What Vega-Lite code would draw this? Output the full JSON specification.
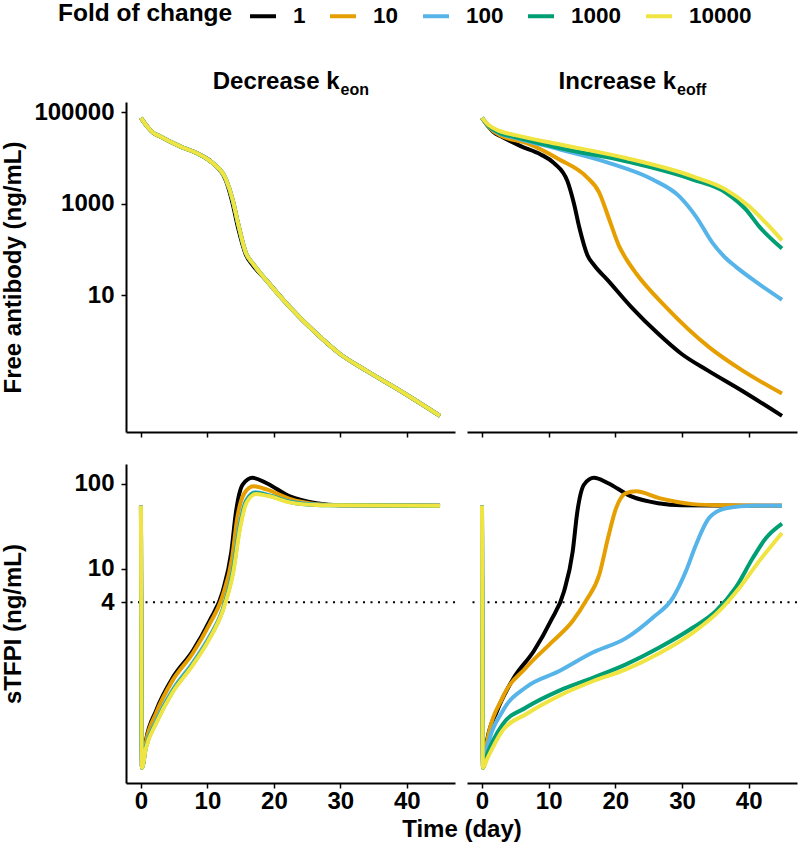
{
"$schema":"https://vega.github.io/schema/vega-lite/v6.json",
"padding":{"left":1,"right":3,"top":1,"bottom":2},
"background":"white",
"datasets":{"d":[
{"p":"kon","m":"ab","f":"1","t":0,"v":75900},{"p":"kon","m":"ab","f":"1","t":1,"v":47900},{"p":"kon","m":"ab","f":"1","t":1.8,"v":36300},{"p":"kon","m":"ab","f":"1","t":2.76,"v":30200},{"p":"kon","m":"ab","f":"1","t":5.8,"v":18200},{"p":"kon","m":"ab","f":"1","t":8.8,"v":12000},{"p":"kon","m":"ab","f":"1","t":10.8,"v":7760},{"p":"kon","m":"ab","f":"1","t":12.8,"v":3160},{"p":"kon","m":"ab","f":"1","t":13.8,"v":1000},{"p":"kon","m":"ab","f":"1","t":14.6,"v":302},{"p":"kon","m":"ab","f":"1","t":15.8,"v":75.9},{"p":"kon","m":"ab","f":"1","t":16.8,"v":45.7},{"p":"kon","m":"ab","f":"1","t":18.85,"v":21.4},{"p":"kon","m":"ab","f":"1","t":22.4,"v":5.5},{"p":"kon","m":"ab","f":"1","t":26.4,"v":1.45},{"p":"kon","m":"ab","f":"1","t":29.9,"v":0.525},{"p":"kon","m":"ab","f":"1","t":33.9,"v":0.224},{"p":"kon","m":"ab","f":"1","t":39,"v":0.0813},{"p":"kon","m":"ab","f":"1","t":45,"v":0.0229},
{"p":"kon","m":"ab","f":"10","t":0,"v":75900},{"p":"kon","m":"ab","f":"10","t":1,"v":47900},{"p":"kon","m":"ab","f":"10","t":1.8,"v":36300},{"p":"kon","m":"ab","f":"10","t":2.76,"v":30200},{"p":"kon","m":"ab","f":"10","t":5.8,"v":18200},{"p":"kon","m":"ab","f":"10","t":8.8,"v":12000},{"p":"kon","m":"ab","f":"10","t":10.8,"v":7760},{"p":"kon","m":"ab","f":"10","t":12.8,"v":3390},{"p":"kon","m":"ab","f":"10","t":13.8,"v":1230},{"p":"kon","m":"ab","f":"10","t":14.6,"v":380},{"p":"kon","m":"ab","f":"10","t":15.8,"v":83.2},{"p":"kon","m":"ab","f":"10","t":16.8,"v":50.1},{"p":"kon","m":"ab","f":"10","t":18.85,"v":21.4},{"p":"kon","m":"ab","f":"10","t":22.4,"v":5.5},{"p":"kon","m":"ab","f":"10","t":26.4,"v":1.45},{"p":"kon","m":"ab","f":"10","t":29.9,"v":0.525},{"p":"kon","m":"ab","f":"10","t":33.9,"v":0.224},{"p":"kon","m":"ab","f":"10","t":39,"v":0.0813},{"p":"kon","m":"ab","f":"10","t":45,"v":0.0229},
{"p":"kon","m":"ab","f":"100","t":0,"v":75900},{"p":"kon","m":"ab","f":"100","t":1,"v":47900},{"p":"kon","m":"ab","f":"100","t":1.8,"v":36300},{"p":"kon","m":"ab","f":"100","t":2.76,"v":30200},{"p":"kon","m":"ab","f":"100","t":5.8,"v":18200},{"p":"kon","m":"ab","f":"100","t":8.8,"v":12000},{"p":"kon","m":"ab","f":"100","t":10.8,"v":7760},{"p":"kon","m":"ab","f":"100","t":12.8,"v":3390},{"p":"kon","m":"ab","f":"100","t":13.8,"v":1230},{"p":"kon","m":"ab","f":"100","t":14.6,"v":380},{"p":"kon","m":"ab","f":"100","t":15.8,"v":83.2},{"p":"kon","m":"ab","f":"100","t":16.8,"v":50.1},{"p":"kon","m":"ab","f":"100","t":18.85,"v":21.4},{"p":"kon","m":"ab","f":"100","t":22.4,"v":5.5},{"p":"kon","m":"ab","f":"100","t":26.4,"v":1.45},{"p":"kon","m":"ab","f":"100","t":29.9,"v":0.525},{"p":"kon","m":"ab","f":"100","t":33.9,"v":0.224},{"p":"kon","m":"ab","f":"100","t":39,"v":0.0813},{"p":"kon","m":"ab","f":"100","t":45,"v":0.0229},
{"p":"kon","m":"ab","f":"1000","t":0,"v":75900},{"p":"kon","m":"ab","f":"1000","t":1,"v":47900},{"p":"kon","m":"ab","f":"1000","t":1.8,"v":36300},{"p":"kon","m":"ab","f":"1000","t":2.76,"v":30200},{"p":"kon","m":"ab","f":"1000","t":5.8,"v":18200},{"p":"kon","m":"ab","f":"1000","t":8.8,"v":12000},{"p":"kon","m":"ab","f":"1000","t":10.8,"v":7760},{"p":"kon","m":"ab","f":"1000","t":12.8,"v":3390},{"p":"kon","m":"ab","f":"1000","t":13.8,"v":1230},{"p":"kon","m":"ab","f":"1000","t":14.6,"v":380},{"p":"kon","m":"ab","f":"1000","t":15.8,"v":83.2},{"p":"kon","m":"ab","f":"1000","t":16.8,"v":50.1},{"p":"kon","m":"ab","f":"1000","t":18.85,"v":21.4},{"p":"kon","m":"ab","f":"1000","t":22.4,"v":5.5},{"p":"kon","m":"ab","f":"1000","t":26.4,"v":1.45},{"p":"kon","m":"ab","f":"1000","t":29.9,"v":0.525},{"p":"kon","m":"ab","f":"1000","t":33.9,"v":0.224},{"p":"kon","m":"ab","f":"1000","t":39,"v":0.0813},{"p":"kon","m":"ab","f":"1000","t":45,"v":0.0229},
{"p":"kon","m":"ab","f":"10000","t":0,"v":75900},{"p":"kon","m":"ab","f":"10000","t":1,"v":47900},{"p":"kon","m":"ab","f":"10000","t":1.8,"v":36300},{"p":"kon","m":"ab","f":"10000","t":2.76,"v":30200},{"p":"kon","m":"ab","f":"10000","t":5.8,"v":18200},{"p":"kon","m":"ab","f":"10000","t":8.8,"v":12000},{"p":"kon","m":"ab","f":"10000","t":10.8,"v":7760},{"p":"kon","m":"ab","f":"10000","t":12.8,"v":3390},{"p":"kon","m":"ab","f":"10000","t":13.8,"v":1230},{"p":"kon","m":"ab","f":"10000","t":14.6,"v":380},{"p":"kon","m":"ab","f":"10000","t":15.8,"v":83.2},{"p":"kon","m":"ab","f":"10000","t":16.8,"v":50.1},{"p":"kon","m":"ab","f":"10000","t":18.85,"v":21.4},{"p":"kon","m":"ab","f":"10000","t":22.4,"v":5.5},{"p":"kon","m":"ab","f":"10000","t":26.4,"v":1.45},{"p":"kon","m":"ab","f":"10000","t":29.9,"v":0.525},{"p":"kon","m":"ab","f":"10000","t":33.9,"v":0.224},{"p":"kon","m":"ab","f":"10000","t":39,"v":0.0813},{"p":"kon","m":"ab","f":"10000","t":45,"v":0.0229},
{"p":"koff","m":"ab","f":"1","t":0,"v":75900},{"p":"koff","m":"ab","f":"1","t":1,"v":47900},{"p":"koff","m":"ab","f":"1","t":1.8,"v":36300},{"p":"koff","m":"ab","f":"1","t":2.76,"v":30200},{"p":"koff","m":"ab","f":"1","t":5.8,"v":18200},{"p":"koff","m":"ab","f":"1","t":8.8,"v":12000},{"p":"koff","m":"ab","f":"1","t":10.8,"v":7760},{"p":"koff","m":"ab","f":"1","t":12.8,"v":3160},{"p":"koff","m":"ab","f":"1","t":13.8,"v":1000},{"p":"koff","m":"ab","f":"1","t":14.6,"v":302},{"p":"koff","m":"ab","f":"1","t":15.8,"v":75.9},{"p":"koff","m":"ab","f":"1","t":16.8,"v":45.7},{"p":"koff","m":"ab","f":"1","t":18.85,"v":21.4},{"p":"koff","m":"ab","f":"1","t":22.4,"v":5.5},{"p":"koff","m":"ab","f":"1","t":26.4,"v":1.45},{"p":"koff","m":"ab","f":"1","t":29.9,"v":0.525},{"p":"koff","m":"ab","f":"1","t":33.9,"v":0.224},{"p":"koff","m":"ab","f":"1","t":39,"v":0.0813},{"p":"koff","m":"ab","f":"1","t":45,"v":0.0229},
{"p":"koff","m":"ab","f":"10","t":0,"v":75900},{"p":"koff","m":"ab","f":"10","t":1,"v":47900},{"p":"koff","m":"ab","f":"10","t":2.76,"v":30900},{"p":"koff","m":"ab","f":"10","t":6.6,"v":21400},{"p":"koff","m":"ab","f":"10","t":11.6,"v":9330},{"p":"koff","m":"ab","f":"10","t":15.6,"v":3980},{"p":"koff","m":"ab","f":"10","t":17.6,"v":1740},{"p":"koff","m":"ab","f":"10","t":19.1,"v":447},{"p":"koff","m":"ab","f":"10","t":20.6,"v":115},{"p":"koff","m":"ab","f":"10","t":21.6,"v":63.1},{"p":"koff","m":"ab","f":"10","t":23.1,"v":30.2},{"p":"koff","m":"ab","f":"10","t":27.6,"v":5.5},{"p":"koff","m":"ab","f":"10","t":34.1,"v":0.724},{"p":"koff","m":"ab","f":"10","t":39.1,"v":0.224},{"p":"koff","m":"ab","f":"10","t":45,"v":0.0708},
{"p":"koff","m":"ab","f":"100","t":0,"v":75900},{"p":"koff","m":"ab","f":"100","t":1,"v":50100},{"p":"koff","m":"ab","f":"100","t":2.5,"v":35500},{"p":"koff","m":"ab","f":"100","t":5,"v":27500},{"p":"koff","m":"ab","f":"100","t":11.6,"v":15500},{"p":"koff","m":"ab","f":"100","t":19.1,"v":7760},{"p":"koff","m":"ab","f":"100","t":25.6,"v":3390},{"p":"koff","m":"ab","f":"100","t":29.6,"v":1450},{"p":"koff","m":"ab","f":"100","t":32.1,"v":525},{"p":"koff","m":"ab","f":"100","t":34.6,"v":138},{"p":"koff","m":"ab","f":"100","t":36.5,"v":66.1},{"p":"koff","m":"ab","f":"100","t":38.1,"v":41.7},{"p":"koff","m":"ab","f":"100","t":41,"v":20},{"p":"koff","m":"ab","f":"100","t":45,"v":7.94},
{"p":"koff","m":"ab","f":"1000","t":0,"v":75900},{"p":"koff","m":"ab","f":"1000","t":1,"v":50100},{"p":"koff","m":"ab","f":"1000","t":2.5,"v":36300},{"p":"koff","m":"ab","f":"1000","t":5,"v":28800},{"p":"koff","m":"ab","f":"1000","t":11.6,"v":16600},{"p":"koff","m":"ab","f":"1000","t":21.6,"v":8510},{"p":"koff","m":"ab","f":"1000","t":31.6,"v":3390},{"p":"koff","m":"ab","f":"1000","t":36.6,"v":1740},{"p":"koff","m":"ab","f":"1000","t":39.6,"v":741},{"p":"koff","m":"ab","f":"1000","t":41.6,"v":316},{"p":"koff","m":"ab","f":"1000","t":45,"v":105},
{"p":"koff","m":"ab","f":"10000","t":0,"v":75900},{"p":"koff","m":"ab","f":"10000","t":1,"v":52500},{"p":"koff","m":"ab","f":"10000","t":2.5,"v":39800},{"p":"koff","m":"ab","f":"10000","t":5,"v":31600},{"p":"koff","m":"ab","f":"10000","t":11.6,"v":19950},{"p":"koff","m":"ab","f":"10000","t":21.6,"v":10000},{"p":"koff","m":"ab","f":"10000","t":31.6,"v":3980},{"p":"koff","m":"ab","f":"10000","t":36.6,"v":2040},{"p":"koff","m":"ab","f":"10000","t":40.1,"v":871},{"p":"koff","m":"ab","f":"10000","t":42.6,"v":380},{"p":"koff","m":"ab","f":"10000","t":45,"v":158},
{"p":"kon","m":"tf","f":"1","t":0,"v":55},{"p":"kon","m":"tf","f":"1","t":0.15,"v":0.0447},{"p":"kon","m":"tf","f":"1","t":0.75,"v":0.0933},{"p":"kon","m":"tf","f":"1","t":2.26,"v":0.209},{"p":"kon","m":"tf","f":"1","t":4.77,"v":0.513},{"p":"kon","m":"tf","f":"1","t":7.8,"v":1.07},{"p":"kon","m":"tf","f":"1","t":10.3,"v":2.4},{"p":"kon","m":"tf","f":"1","t":12.3,"v":5.37},{"p":"kon","m":"tf","f":"1","t":13.6,"v":15.8},{"p":"kon","m":"tf","f":"1","t":14.3,"v":46.8},{"p":"kon","m":"tf","f":"1","t":15.3,"v":97.7},{"p":"kon","m":"tf","f":"1","t":16.8,"v":117.5},{"p":"kon","m":"tf","f":"1","t":18.85,"v":102},{"p":"kon","m":"tf","f":"1","t":22.4,"v":70.8},{"p":"kon","m":"tf","f":"1","t":26.4,"v":58.9},{"p":"kon","m":"tf","f":"1","t":29.9,"v":55.6},{"p":"kon","m":"tf","f":"1","t":45,"v":55},
{"p":"kon","m":"tf","f":"10","t":0,"v":55},{"p":"kon","m":"tf","f":"10","t":0.15,"v":0.0447},{"p":"kon","m":"tf","f":"10","t":0.75,"v":0.0891},{"p":"kon","m":"tf","f":"10","t":2.26,"v":0.195},{"p":"kon","m":"tf","f":"10","t":4.77,"v":0.479},{"p":"kon","m":"tf","f":"10","t":7.8,"v":1.0},{"p":"kon","m":"tf","f":"10","t":10.3,"v":2.19},{"p":"kon","m":"tf","f":"10","t":12.3,"v":4.79},{"p":"kon","m":"tf","f":"10","t":13.7,"v":13.2},{"p":"kon","m":"tf","f":"10","t":14.5,"v":39.8},{"p":"kon","m":"tf","f":"10","t":15.5,"v":75.9},{"p":"kon","m":"tf","f":"10","t":16.9,"v":93.3},{"p":"kon","m":"tf","f":"10","t":19,"v":85.1},{"p":"kon","m":"tf","f":"10","t":22.4,"v":66.1},{"p":"kon","m":"tf","f":"10","t":26.4,"v":57.5},{"p":"kon","m":"tf","f":"10","t":30,"v":55.6},{"p":"kon","m":"tf","f":"10","t":45,"v":55},
{"p":"kon","m":"tf","f":"100","t":0,"v":55},{"p":"kon","m":"tf","f":"100","t":0.15,"v":0.0447},{"p":"kon","m":"tf","f":"100","t":0.75,"v":0.0794},{"p":"kon","m":"tf","f":"100","t":2.26,"v":0.158},{"p":"kon","m":"tf","f":"100","t":4.77,"v":0.372},{"p":"kon","m":"tf","f":"100","t":7.8,"v":0.776},{"p":"kon","m":"tf","f":"100","t":10.3,"v":1.58},{"p":"kon","m":"tf","f":"100","t":12.3,"v":3.31},{"p":"kon","m":"tf","f":"100","t":13.8,"v":9.55},{"p":"kon","m":"tf","f":"100","t":14.8,"v":31.6},{"p":"kon","m":"tf","f":"100","t":15.8,"v":63.1},{"p":"kon","m":"tf","f":"100","t":17.2,"v":79.4},{"p":"kon","m":"tf","f":"100","t":19.5,"v":72.4},{"p":"kon","m":"tf","f":"100","t":22.4,"v":61.7},{"p":"kon","m":"tf","f":"100","t":26.4,"v":56.9},{"p":"kon","m":"tf","f":"100","t":30,"v":55.6},{"p":"kon","m":"tf","f":"100","t":45,"v":55},
{"p":"kon","m":"tf","f":"1000","t":0,"v":55},{"p":"kon","m":"tf","f":"1000","t":0.15,"v":0.0447},{"p":"kon","m":"tf","f":"1000","t":0.75,"v":0.0776},{"p":"kon","m":"tf","f":"1000","t":2.26,"v":0.151},{"p":"kon","m":"tf","f":"1000","t":4.77,"v":0.355},{"p":"kon","m":"tf","f":"1000","t":7.8,"v":0.741},{"p":"kon","m":"tf","f":"1000","t":10.3,"v":1.51},{"p":"kon","m":"tf","f":"1000","t":12.3,"v":3.24},{"p":"kon","m":"tf","f":"1000","t":13.85,"v":9.33},{"p":"kon","m":"tf","f":"1000","t":14.85,"v":30.2},{"p":"kon","m":"tf","f":"1000","t":15.85,"v":61.7},{"p":"kon","m":"tf","f":"1000","t":17.25,"v":77.6},{"p":"kon","m":"tf","f":"1000","t":19.5,"v":71.6},{"p":"kon","m":"tf","f":"1000","t":22.4,"v":61.0},{"p":"kon","m":"tf","f":"1000","t":26.4,"v":56.2},{"p":"kon","m":"tf","f":"1000","t":30,"v":55.6},{"p":"kon","m":"tf","f":"1000","t":45,"v":55},
{"p":"kon","m":"tf","f":"10000","t":0,"v":55},{"p":"kon","m":"tf","f":"10000","t":0.15,"v":0.0447},{"p":"kon","m":"tf","f":"10000","t":0.75,"v":0.0759},{"p":"kon","m":"tf","f":"10000","t":2.26,"v":0.148},{"p":"kon","m":"tf","f":"10000","t":4.77,"v":0.347},{"p":"kon","m":"tf","f":"10000","t":7.8,"v":0.724},{"p":"kon","m":"tf","f":"10000","t":10.3,"v":1.48},{"p":"kon","m":"tf","f":"10000","t":12.3,"v":3.16},{"p":"kon","m":"tf","f":"10000","t":13.9,"v":9.12},{"p":"kon","m":"tf","f":"10000","t":14.9,"v":29.5},{"p":"kon","m":"tf","f":"10000","t":15.9,"v":60.3},{"p":"kon","m":"tf","f":"10000","t":17.3,"v":75.9},{"p":"kon","m":"tf","f":"10000","t":19.5,"v":70.8},{"p":"kon","m":"tf","f":"10000","t":22.4,"v":60.3},{"p":"kon","m":"tf","f":"10000","t":26.4,"v":56.2},{"p":"kon","m":"tf","f":"10000","t":30,"v":55.6},{"p":"kon","m":"tf","f":"10000","t":45,"v":55},
{"p":"koff","m":"tf","f":"1","t":0,"v":55},{"p":"koff","m":"tf","f":"1","t":0.15,"v":0.0447},{"p":"koff","m":"tf","f":"1","t":0.75,"v":0.0933},{"p":"koff","m":"tf","f":"1","t":2.26,"v":0.209},{"p":"koff","m":"tf","f":"1","t":4.77,"v":0.513},{"p":"koff","m":"tf","f":"1","t":7.8,"v":1.07},{"p":"koff","m":"tf","f":"1","t":10.3,"v":2.4},{"p":"koff","m":"tf","f":"1","t":12.3,"v":5.37},{"p":"koff","m":"tf","f":"1","t":13.6,"v":15.8},{"p":"koff","m":"tf","f":"1","t":14.3,"v":46.8},{"p":"koff","m":"tf","f":"1","t":15.3,"v":97.7},{"p":"koff","m":"tf","f":"1","t":16.8,"v":117.5},{"p":"koff","m":"tf","f":"1","t":18.85,"v":102},{"p":"koff","m":"tf","f":"1","t":22.4,"v":70.8},{"p":"koff","m":"tf","f":"1","t":26.4,"v":58.9},{"p":"koff","m":"tf","f":"1","t":29.9,"v":55.6},{"p":"koff","m":"tf","f":"1","t":45,"v":55},
{"p":"koff","m":"tf","f":"10","t":0,"v":55},{"p":"koff","m":"tf","f":"10","t":0.15,"v":0.0447},{"p":"koff","m":"tf","f":"10","t":0.75,"v":0.0891},{"p":"koff","m":"tf","f":"10","t":3.1,"v":0.302},{"p":"koff","m":"tf","f":"10","t":6.6,"v":0.676},{"p":"koff","m":"tf","f":"10","t":10.6,"v":1.38},{"p":"koff","m":"tf","f":"10","t":13.6,"v":2.4},{"p":"koff","m":"tf","f":"10","t":15.6,"v":4.17},{"p":"koff","m":"tf","f":"10","t":17.6,"v":8.51},{"p":"koff","m":"tf","f":"10","t":18.9,"v":22.9},{"p":"koff","m":"tf","f":"10","t":20.1,"v":51.3},{"p":"koff","m":"tf","f":"10","t":21.6,"v":77.6},{"p":"koff","m":"tf","f":"10","t":23.1,"v":81.3},{"p":"koff","m":"tf","f":"10","t":26.6,"v":67.6},{"p":"koff","m":"tf","f":"10","t":31.6,"v":57.5},{"p":"koff","m":"tf","f":"10","t":36,"v":55.6},{"p":"koff","m":"tf","f":"10","t":45,"v":55},
{"p":"koff","m":"tf","f":"100","t":0,"v":55},{"p":"koff","m":"tf","f":"100","t":0.15,"v":0.0447},{"p":"koff","m":"tf","f":"100","t":0.75,"v":0.0759},{"p":"koff","m":"tf","f":"100","t":3.1,"v":0.209},{"p":"koff","m":"tf","f":"100","t":6.6,"v":0.398},{"p":"koff","m":"tf","f":"100","t":11.6,"v":0.617},{"p":"koff","m":"tf","f":"100","t":16.6,"v":1.02},{"p":"koff","m":"tf","f":"100","t":21.6,"v":1.51},{"p":"koff","m":"tf","f":"100","t":25.6,"v":2.63},{"p":"koff","m":"tf","f":"100","t":28.6,"v":4.47},{"p":"koff","m":"tf","f":"100","t":30.6,"v":9.33},{"p":"koff","m":"tf","f":"100","t":32.1,"v":19.1},{"p":"koff","m":"tf","f":"100","t":34.1,"v":39.8},{"p":"koff","m":"tf","f":"100","t":36.6,"v":51.3},{"p":"koff","m":"tf","f":"100","t":40.6,"v":55},{"p":"koff","m":"tf","f":"100","t":45,"v":55},
{"p":"koff","m":"tf","f":"1000","t":0,"v":55},{"p":"koff","m":"tf","f":"1000","t":0.15,"v":0.0447},{"p":"koff","m":"tf","f":"1000","t":0.75,"v":0.0631},{"p":"koff","m":"tf","f":"1000","t":3.1,"v":0.145},{"p":"koff","m":"tf","f":"1000","t":6.6,"v":0.229},{"p":"koff","m":"tf","f":"1000","t":11.6,"v":0.363},{"p":"koff","m":"tf","f":"1000","t":16.6,"v":0.513},{"p":"koff","m":"tf","f":"1000","t":21.6,"v":0.741},{"p":"koff","m":"tf","f":"1000","t":26.6,"v":1.17},{"p":"koff","m":"tf","f":"1000","t":31.6,"v":2.0},{"p":"koff","m":"tf","f":"1000","t":35.1,"v":3.16},{"p":"koff","m":"tf","f":"1000","t":38.1,"v":6.03},{"p":"koff","m":"tf","f":"1000","t":40.6,"v":13.2},{"p":"koff","m":"tf","f":"1000","t":42.6,"v":22.9},{"p":"koff","m":"tf","f":"1000","t":45,"v":33.9},
{"p":"koff","m":"tf","f":"10000","t":0,"v":55},{"p":"koff","m":"tf","f":"10000","t":0.15,"v":0.0447},{"p":"koff","m":"tf","f":"10000","t":0.75,"v":0.0562},{"p":"koff","m":"tf","f":"10000","t":3.1,"v":0.123},{"p":"koff","m":"tf","f":"10000","t":6.6,"v":0.191},{"p":"koff","m":"tf","f":"10000","t":11.6,"v":0.316},{"p":"koff","m":"tf","f":"10000","t":16.6,"v":0.468},{"p":"koff","m":"tf","f":"10000","t":21.6,"v":0.646},{"p":"koff","m":"tf","f":"10000","t":26.6,"v":1.0},{"p":"koff","m":"tf","f":"10000","t":31.6,"v":1.74},{"p":"koff","m":"tf","f":"10000","t":35.6,"v":3.16},{"p":"koff","m":"tf","f":"10000","t":38.6,"v":5.89},{"p":"koff","m":"tf","f":"10000","t":41.6,"v":12.3},{"p":"koff","m":"tf","f":"10000","t":45,"v":26.3}
]},
"spacing":26,
"vconcat":[
{"spacing":12,"bounds":"flush","hconcat":[
{"width":329,"height":330,
 "layer":[
  {"data":{"name":"d"},"transform":[{"filter":"datum.p==='kon' && datum.m==='ab'"}],
   "mark":{"type":"line","interpolate":"monotone","strokeWidth":4,"clip":true},
   "encoding":{
    "x":{"field":"t","type":"quantitative","scale":{"domain":[-2.25,47.25],"nice":false,"zero":false},"axis":{"values":[0,10,20,30,40],"labels":false,"title":null}},
    "y":{"field":"v","type":"quantitative","scale":{"type":"log","domain":[0.0102,168000],"nice":false},"axis":{"values":[10,1000,100000],"format":"d","title":"Free antibody (ng/mL)","titleX":-101}},
    "color":{"field":"f","type":"nominal","scale":{"domain":["1","10","100","1000","10000"],"range":["#000000","#E69F00","#56B4E9","#009E73","#F0E442"]},
     "legend":{"orient":"none","legendX":-68,"legendY":-101,"direction":"horizontal","title":"Fold of change","titleOrient":"left","titleFontSize":24.5,"titleFontWeight":"bold","titleColor":"black","titleFont":"Liberation Sans","labelFontSize":22.5,"labelFontWeight":"bold","labelColor":"black","labelFont":"Liberation Sans","symbolType":"stroke","symbolSize":676,"symbolStrokeWidth":4,"labelOffset":15,"columnPadding":16,"titlePadding":15}}
   }},
  {"data":{"values":[{}]},"mark":{"type":"text","text":"Decrease k","align":"right","baseline":"alphabetic","dx":49,"dy":-13,"fontSize":24,"fontWeight":"bold","font":"Liberation Sans","color":"black"},
   "encoding":{"x":{"datum":22.5,"axis":{"values":[0,10,20,30,40],"labels":false,"title":null}},"y":{"datum":168000,"axis":{"values":[10,1000,100000],"format":"d","title":"Free antibody (ng/mL)","titleX":-101}}}},
  {"data":{"values":[{}]},"mark":{"type":"text","text":"eon","align":"left","baseline":"alphabetic","dx":50,"dy":-7,"fontSize":16,"fontWeight":"bold","font":"Liberation Sans","color":"black"},
   "encoding":{"x":{"datum":22.5,"axis":{"values":[0,10,20,30,40],"labels":false,"title":null}},"y":{"datum":168000,"axis":{"values":[10,1000,100000],"format":"d","title":"Free antibody (ng/mL)","titleX":-101}}}}
 ]},
{"width":330,"height":330,
 "layer":[
  {"data":{"name":"d"},"transform":[{"filter":"datum.p==='koff' && datum.m==='ab'"}],
   "mark":{"type":"line","interpolate":"monotone","strokeWidth":4,"clip":true},
   "encoding":{
    "x":{"field":"t","type":"quantitative","scale":{"domain":[-2.25,47.25],"nice":false,"zero":false},"axis":{"values":[0,10,20,30,40],"labels":false,"title":null}},
    "y":{"field":"v","type":"quantitative","scale":{"type":"log","domain":[0.0102,168000],"nice":false},"axis":null},
    "color":{"field":"f","type":"nominal","legend":null}
   }},
  {"data":{"values":[{}]},"mark":{"type":"text","text":"Increase k","align":"right","baseline":"alphabetic","dx":44,"dy":-13,"fontSize":24,"fontWeight":"bold","font":"Liberation Sans","color":"black"},
   "encoding":{"x":{"datum":22.5,"axis":{"values":[0,10,20,30,40],"labels":false,"title":null}},"y":{"datum":168000,"axis":null}}},
  {"data":{"values":[{}]},"mark":{"type":"text","text":"eoff","align":"left","baseline":"alphabetic","dx":45,"dy":-7,"fontSize":16,"fontWeight":"bold","font":"Liberation Sans","color":"black"},
   "encoding":{"x":{"datum":22.5,"axis":{"values":[0,10,20,30,40],"labels":false,"title":null}},"y":{"datum":168000,"axis":null}}}
 ]}
]},
{"spacing":12,"bounds":"flush","hconcat":[
{"width":329,"height":319,
 "layer":[
  {"data":{"values":[{}]},"mark":{"type":"rule","strokeDash":[2,5.5],"strokeWidth":2,"color":"black"},
   "encoding":{"y":{"datum":4,"axis":{"values":[4,10,100],"format":"d","title":"sTFPI (ng/mL)","titleX":-101}}}},
  {"data":{"name":"d"},"transform":[{"filter":"datum.p==='kon' && datum.m==='tf'"}],
   "mark":{"type":"line","interpolate":"monotone","strokeWidth":4,"clip":true},
   "encoding":{
    "x":{"field":"t","type":"quantitative","scale":{"domain":[-2.25,47.25],"nice":false,"zero":false},"axis":{"values":[0,10,20,30,40],"title":"Time (day)","titleX":335.5}},
    "y":{"field":"v","type":"quantitative","scale":{"type":"log","domain":[0.0295,171],"nice":false},"axis":{"values":[4,10,100],"format":"d","title":"sTFPI (ng/mL)","titleX":-101}},
    "color":{"field":"f","type":"nominal","legend":null}
   }}
 ]},
{"width":330,"height":319,
 "layer":[
  {"data":{"values":[{}]},"mark":{"type":"rule","strokeDash":[2,5.5],"strokeWidth":2,"color":"black"},
   "encoding":{"y":{"datum":4,"axis":null}}},
  {"data":{"name":"d"},"transform":[{"filter":"datum.p==='koff' && datum.m==='tf'"}],
   "mark":{"type":"line","interpolate":"monotone","strokeWidth":4,"clip":true},
   "encoding":{
    "x":{"field":"t","type":"quantitative","scale":{"domain":[-2.25,47.25],"nice":false,"zero":false},"axis":{"values":[0,10,20,30,40],"title":null}},
    "y":{"field":"v","type":"quantitative","scale":{"type":"log","domain":[0.0295,171],"nice":false},"axis":null},
    "color":{"field":"f","type":"nominal","legend":null}
   }}
 ]}
]}
],
"config":{
 "font":"Liberation Sans",
 "view":{"stroke":null},
 "axis":{"labelFont":"Liberation Sans","labelFontSize":24,"labelFontWeight":"bold","labelColor":"black","titleFont":"Liberation Sans","titleFontSize":24,"titleFontWeight":"bold","titleColor":"black","domainColor":"black","domainWidth":2,"tickColor":"black","tickWidth":1.5,"tickSize":5,"grid":false,"labelPadding":3,"titlePadding":6},
 "axisX":{"labelPadding":1,"titlePadding":4},
 "axisY":{"labelPadding":7}
}
}
